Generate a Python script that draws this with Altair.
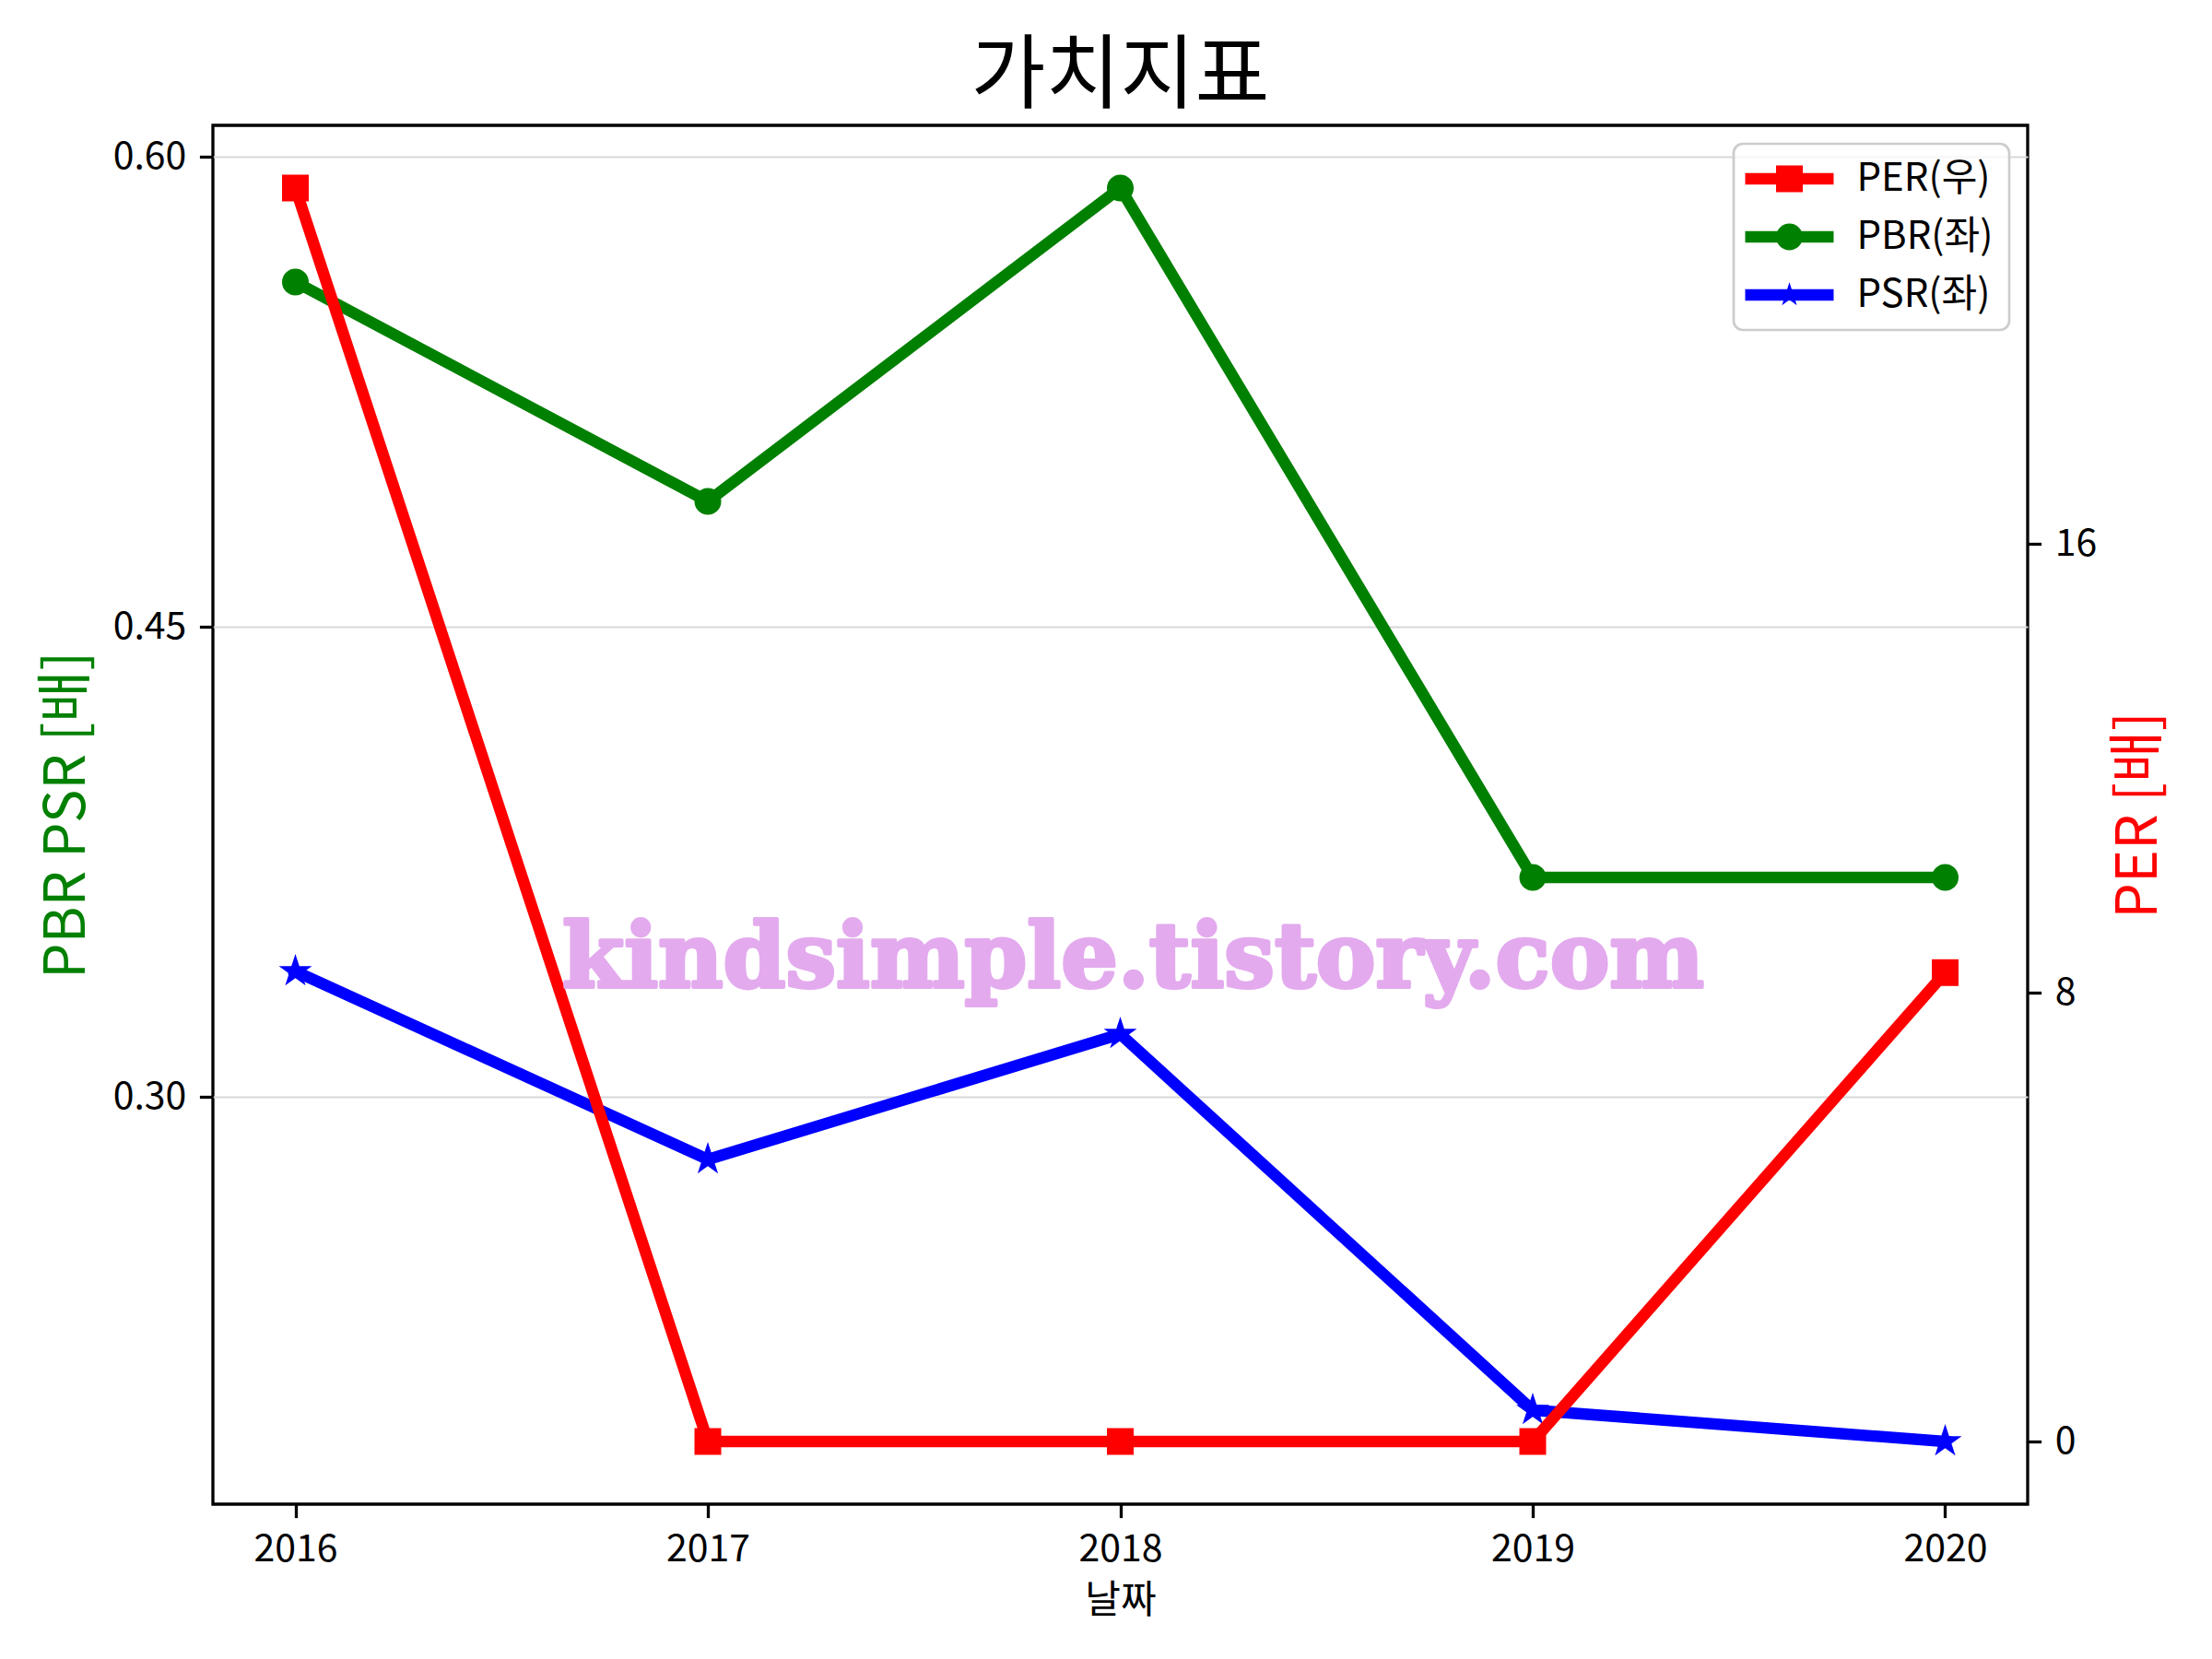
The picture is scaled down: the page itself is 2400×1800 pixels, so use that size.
import math
import altair as alt
import pandas as pd

# ---------------- data ----------------
years = [2016, 2017, 2018, 2019, 2020]
per = [22.35, 0.0, 0.0, 0.0, 8.36]
pbr = [0.56, 0.49, 0.59, 0.37, 0.37]
psr = [0.34, 0.28, 0.32, 0.20, 0.19]

series = ["PER(우)", "PBR(좌)", "PSR(좌)"]
colors = ["#ff0000", "#008000", "#0000ff"]

title_text = "가치지표"
x_title = "날짜"
left_title = "PBR PSR [배]"
right_title = "PER [배]"
watermark = "kindsimple.tistory.com"

left_ticks = [0.30, 0.45, 0.60]
right_ticks = [0, 8, 16]


def margin_domain(vals, frac=0.05):
    lo, hi = min(vals), max(vals)
    r = hi - lo
    return [lo - frac * r, hi + frac * r]


x_dom = margin_domain(years)
left_dom = margin_domain(pbr + psr)
right_dom = margin_domain(per)

pbr_df = pd.DataFrame({"year": years, "value": pbr, "series": series[1]})
psr_df = pd.DataFrame({"year": years, "value": psr, "series": series[2]})
per_df = pd.DataFrame({"year": years, "value": per, "series": series[0]})
legend_df = pd.DataFrame({"year": [years[2]] * 3, "value": [10.0] * 3, "series": series})
wm_df = pd.DataFrame({"t": [watermark]})


# ---------------- shapes ----------------
def star_path(R, inner=0.381966):
    pts = []
    for k in range(10):
        ang = math.radians(-90 + 36 * k)
        r = R if k % 2 == 0 else R * inner
        pts.append((r * math.cos(ang), r * math.sin(ang)))
    s = "M%.4f,%.4f" % pts[0]
    for p in pts[1:]:
        s += "L%.4f,%.4f" % p
    return s + "Z"


# legend symbol: size 841 -> 1 unit = 14.5 px ; handle 96 px wide, 12.5 px thick
L_HALF = 3.31
T_HALF = 0.431
line_rect = "M-%.3f,-%.3fH%.3fV%.3fH-%.3fZ" % (L_HALF, T_HALF, L_HALF, T_HALF, L_HALF)
leg_per = line_rect + "M-1,-1H1V1H-1Z"
leg_pbr = line_rect + "M-1,0A1,1,0,1,1,1,0A1,1,0,1,1,-1,0Z"
leg_psr = line_rect + star_path(0.95)
marker_star = star_path(1.0)

FONT = "Noto Sans CJK KR"
RED, GREEN, BLUE = colors

X = alt.X(
    "year:Q",
    scale=alt.Scale(domain=x_dom, nice=False, zero=False),
    axis=alt.Axis(values=years, format="d", grid=False, title=x_title,
                  titleFontSize=42, titleY=117, titleBaseline="alphabetic",
                  labelFlush=False),
)

left_axis = alt.Axis(orient="left", values=left_ticks, format=".2f", grid=True,
                     gridColor="#d8d8d8", gridWidth=2, title=left_title,
                     titleColor=GREEN, titleFontSize=61, titleAngle=-90,
                     titleX=-140, titleY=748, titleAlign="center",
                     titleBaseline="alphabetic")
right_axis = alt.Axis(orient="right", values=right_ticks, format="d", grid=False,
                      title=right_title, titleColor=RED, titleFontSize=61,
                      titleAngle=-90, titleX=139, titleY=748, titleAlign="center",
                      titleBaseline="alphabetic")
left_scale = alt.Scale(domain=left_dom, nice=False, zero=False)
right_scale = alt.Scale(domain=right_dom, nice=False, zero=False)

YL = alt.Y("value:Q", scale=left_scale, axis=left_axis)
YR = alt.Y("value:Q", scale=right_scale, axis=right_axis)

LW = 12.5


def line_layer(df, y, col):
    return alt.Chart(df).mark_line(
        strokeWidth=LW, strokeJoin="round", strokeCap="square", color=col
    ).encode(x=X, y=y)


pbr_line = line_layer(pbr_df, YL, GREEN)
pbr_pts = alt.Chart(pbr_df).mark_point(
    filled=True, shape="circle", size=841, opacity=1, strokeWidth=0, color=GREEN
).encode(x=X, y=YL)

psr_line = line_layer(psr_df, YL, BLUE)
psr_pts = alt.Chart(psr_df).mark_point(
    filled=True, shape=marker_star, size=700, opacity=1, fill=BLUE,
    stroke=BLUE, strokeWidth=3.5, strokeJoin="miter"
).encode(x=X, y=YL)

leg = alt.Legend(orient="top-right", offset=20, title=None,
                 labelFont=FONT, labelFontSize=42, labelColor="black",
                 symbolSize=841, symbolStrokeWidth=0,
                 rowPadding=21, labelOffset=52, padding=17, symbolOffset=22.5,
                 strokeColor="#cccccc", fillColor="#ffffffcc", cornerRadius=10,
                 labelLimit=400)

# legend carrier: points placed outside the y domain and clipped away
legend_layer = alt.Chart(legend_df).mark_point(
    filled=True, clip=True, opacity=1, strokeWidth=0
).encode(
    x=X, y=YL,
    color=alt.Color("series:N", scale=alt.Scale(domain=series, range=colors), legend=leg),
    shape=alt.Shape("series:N", scale=alt.Scale(domain=series, range=[leg_per, leg_pbr, leg_psr]), legend=leg),
)

left_layer = alt.layer(legend_layer, pbr_line, pbr_pts, psr_line, psr_pts)

per_line = line_layer(per_df, YR, RED)
per_pts = alt.Chart(per_df).mark_point(
    filled=True, shape="square", size=841, opacity=1, strokeWidth=0, color=RED
).encode(x=X, y=YR)

wm = alt.Chart(wm_df).mark_text(
    font="DejaVu Serif", fontWeight="bold", fontSize=97, color="#E3AAEE",
    stroke="#E3AAEE", strokeWidth=4, strokeJoin="round",
    align="center", baseline="middle", dx=14
).encode(
    x=alt.XDatum(years[2]),
    y=alt.YDatum(8.58, scale=right_scale, axis=right_axis),
    text="t:N",
)

right_layer = alt.layer(per_line, per_pts, wm)

chart = alt.layer(left_layer, right_layer).resolve_scale(y="independent").properties(
    width=1969,
    height=1496,
    autosize="none",
    padding={"left": 223, "top": 128, "right": 192, "bottom": 144},
    background="white",
    title=alt.TitleParams(title_text, font=FONT, fontSize=88, fontWeight="normal",
                          color="black", anchor="middle", frame="group",
                          offset=26, dy=88, baseline="alphabetic"),
).configure_view(
    stroke="black", strokeWidth=3.3
).configure_axis(
    domain=False, ticks=True, tickColor="black", tickWidth=3.3, tickSize=14.6,
    labelFont=FONT, labelFontSize=41, labelColor="black", labelPadding=14.6,
    titleFont=FONT, titleFontWeight="normal", titleColor="black",
).configure_legend(
    strokeWidth=2.7, symbolOpacity=1
)

chart.save("out.html", embed_options={"renderer": "svg", "actions": False})
